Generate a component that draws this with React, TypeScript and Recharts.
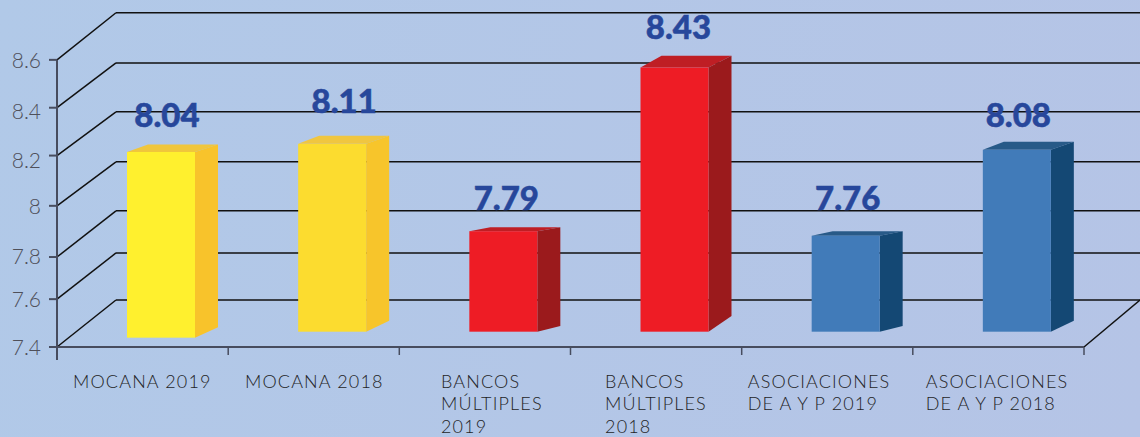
import { BarChart, Bar, XAxis, YAxis, ReferenceLine, LabelList } from "recharts";

// the picture's bars do not follow their printed numbers, so both are kept
const categories = [
	"MOCANA 2019",
	"MOCANA 2018",
	"BANCOS\nMÚLTIPLES\n2019",
	"BANCOS\nMÚLTIPLES\n2018",
	"ASOCIACIONES\nDE A Y P 2019",
	"ASOCIACIONES\nDE A Y P 2018",
];
const printedValues = ["8.04", "8.11", "7.79", "8.43", "7.76", "8.08"];
const barTops = [8.215, 8.249, 7.884, 8.568, 7.865, 8.224];
const barBottoms = [7.439, 7.464, 7.464, 7.464, 7.464, 7.464];

const axisLabels = ["7.4", "7.6", "7.8", "8", "8.2", "8.4", "8.6"];
const frontLevels = [7.4, 7.6, 7.776, 7.99, 8.2, 8.4, 8.6];
const backLevels = [7.5965, 7.793, 7.969, 8.174, 8.383, 8.587, 8.797];

const data = categories.map((name, i) => ({
	name,
	range: [barBottoms[i], barTops[i]],
	printed: printedValues[i],
}));

const FRONT = ["#fff02e", "#fcdc2f", "#ee1c25", "#ee1c25", "#417bb9", "#417bb9"];
const SIDE = ["#f8c32b", "#f7c52b", "#9b1a1c", "#9b1a1c", "#144874", "#144874"];
const TOP = ["#f0c63c", "#f0c640", "#bf1e24", "#bf1e24", "#285a88", "#285a88"];

const BAR_SHIFT = 18;
const BAR_DEPTH = 23;
const TOP_RISE = [7.5, 8, 4, 11.7, 4.4, 8];
const BOTTOM_RISE = [10.5, 11, 5.7, 15.7, 5.7, 11];
const LABEL_RISE = [17, 23, 17, 17, 21, 15];
const LABEL_SHIFT = [6, 12, 3, 4, 2, 1.5];
const TICK_SHIFT = [-69.6, -68.8, -44, -51, -79.5, -72.7];
const Y_LABEL_SHIFT = [0, 0, -1, 0, 4, 3, 0];

const WALL_DEPTH = 59;
const FLOOR_WIDTH = 1027;
const wallTicks = [0, 171.2, 342.3, 513.5, 684.7, 855.8, 1027];

const FONT = "Lato, sans-serif";
const AXIS_COLOR = "#474c5e";
const CAT_AXIS_HEIGHT = 60;
const WALL_Z = -50;

const Bar3D = (props: any) => {
	const { x, y, width, height, index } = props;
	const left = x + BAR_SHIFT;
	const right = left + width;
	const bottom = y + height;
	const topBack = y - TOP_RISE[index];
	const sideBottom = bottom - BOTTOM_RISE[index];
	return (
		<g>
			<polygon
				points={`${left},${y} ${left + BAR_DEPTH - 2},${topBack} ${right + BAR_DEPTH},${topBack} ${right},${y}`}
				fill={TOP[index]}
			/>
			<polygon
				points={`${right},${y} ${right + BAR_DEPTH},${topBack} ${right + BAR_DEPTH},${sideBottom} ${right},${bottom}`}
				fill={SIDE[index]}
			/>
			<rect x={left} y={y} width={width} height={height} fill={FRONT[index]} />
		</g>
	);
};

const ValueLabel = (props: any) => {
	const { x, y, width, value, index } = props;
	return (
		<text
			x={x + width / 2 + BAR_SHIFT + LABEL_SHIFT[index]}
			y={y - TOP_RISE[index] - LABEL_RISE[index]}
			textAnchor="middle"
			fontFamily={FONT}
			fontWeight={900}
			fontSize={33}
			stroke="#27479b"
			strokeWidth={0.5}
			fill="#27479b">
			{value}
		</text>
	);
};

const CategoryTick = (props: any) => {
	const { x, y, index, payload } = props;
	const lines = String(payload.value).split("\n");
	return (
		<text fontFamily={FONT} fontWeight={300} fontSize={18} fill="#1f1f26" letterSpacing={1.15}>
			{lines.map((line, i) => (
				<tspan key={i} x={x + TICK_SHIFT[index]} y={y + 41 + i * 22.4}>
					{line}
				</tspan>
			))}
		</text>
	);
};

const LevelTick = (props: any) => {
	const { x, y, index } = props;
	return (
		<text
			x={x}
			y={y + 8 + Y_LABEL_SHIFT[index]}
			textAnchor="end"
			fontFamily={FONT}
			fontWeight={300}
			fontSize={21}
			fill="#4f505a">
			{axisLabels[index]}
		</text>
	);
};

// this axis stacks under the category axis, so its ticks step back up by that height
const WallTick = (props: any) => {
	const { x, y, index } = props;
	const top = y - CAT_AXIS_HEIGHT;
	return (
		<line
			x1={x}
			x2={x}
			y1={top}
			y2={top + (index === 0 ? 13 : 8)}
			stroke={AXIS_COLOR}
			strokeWidth={index === 0 ? 2 : 1.5}
		/>
	);
};

export default function App() {
	return (
		<div
			style={{
				position: "absolute",
				left: 0,
				top: 0,
				width: 1140,
				height: 437,
				background: "linear-gradient(100deg, #b1c9e8, #b5c4e6)",
			}}>
			<BarChart
				width={1140}
				height={437}
				data={data}
				margin={{ top: 12, right: 0, left: 0, bottom: 16 }}>
				<XAxis
					xAxisId="wall"
					dataKey={() => 0}
					type="number"
					domain={[0, 1083]}
					allowDataOverflow
					ticks={wallTicks}
					axisLine={false}
					tickLine={false}
					tickSize={0}
					tickMargin={0}
					height={14}
					interval={0}
					tick={WallTick}
				/>
				<XAxis
					xAxisId="cat"
					dataKey="name"
					padding={{ left: 0, right: 56 }}
					axisLine={false}
					tickLine={false}
					tickSize={0}
					tickMargin={0}
					height={CAT_AXIS_HEIGHT}
					interval={0}
					tick={CategoryTick}
				/>
				<YAxis
					width={57}
					domain={[7.4, 8.8]}
					ticks={frontLevels}
					interval={0}
					axisLine={false}
					tickSize={8}
					tickMargin={8}
					tickLine={{ stroke: AXIS_COLOR, strokeWidth: 2 }}
					tick={LevelTick}
				/>
				{frontLevels.map((level, i) => (
					<ReferenceLine
						key={`side-${i}`}
						xAxisId="wall"
						zIndex={WALL_Z}
						segment={[
							{ x: 0, y: level },
							{ x: WALL_DEPTH, y: backLevels[i] },
						]}
						stroke="#111"
						strokeWidth={1.5}
					/>
				))}
				{backLevels.map((level, i) => (
					<ReferenceLine
						key={`back-${i}`}
						xAxisId="wall"
						zIndex={WALL_Z}
						segment={[
							{ x: WALL_DEPTH, y: level },
							{ x: 1083, y: level },
						]}
						stroke="#111"
						strokeWidth={1.5}
					/>
				))}
				<ReferenceLine
					xAxisId="wall"
					zIndex={WALL_Z}
					segment={[
						{ x: FLOOR_WIDTH, y: frontLevels[0] },
						{ x: 1083, y: backLevels[0] },
					]}
					stroke="#111"
					strokeWidth={1.5}
				/>
				<ReferenceLine
					xAxisId="wall"
					segment={[
						{ x: 0, y: frontLevels[0] },
						{ x: FLOOR_WIDTH, y: frontLevels[0] },
					]}
					stroke={AXIS_COLOR}
					strokeWidth={2}
				/>
				<ReferenceLine
					xAxisId="wall"
					segment={[
						{ x: 0, y: frontLevels[0] },
						{ x: 0, y: frontLevels[6] },
					]}
					stroke={AXIS_COLOR}
					strokeWidth={2}
				/>
				<Bar
					xAxisId="cat"
					dataKey="range"
					barSize={68}
					shape={Bar3D}
					isAnimationActive={false}>
					<LabelList dataKey="printed" content={ValueLabel} />
				</Bar>
			</BarChart>
		</div>
	);
}
